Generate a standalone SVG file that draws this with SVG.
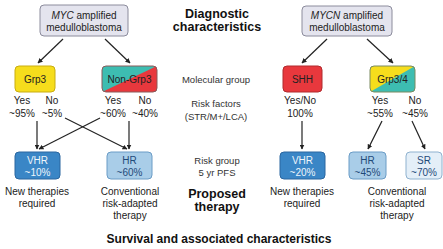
<svg xmlns="http://www.w3.org/2000/svg" width="443" height="249" viewBox="0 0 443 249">
<defs>
<marker id="ah" viewBox="0 0 10 10" refX="9" refY="5" markerWidth="5" markerHeight="5" orient="auto-start-reverse" markerUnits="userSpaceOnUse">
<path d="M0,0 L10,5 L0,10 z" fill="#222"/>
</marker>
<clipPath id="cNG"><rect x="102" y="66" width="55" height="26" rx="4"/></clipPath>
<clipPath id="cG34"><rect x="370" y="66" width="45" height="26" rx="4"/></clipPath>
<style>
text{font-family:"Liberation Sans",Arial,sans-serif;font-size:10px;fill:#222;text-anchor:middle}
.h{font-weight:bold;font-size:12.5px;fill:#111}
.s{font-weight:bold;font-size:12px;fill:#111}
.m{font-size:9.5px;fill:#333}
.top{fill:#e4e4ee;stroke:#8c8c9c;stroke-width:1}
.vhr{fill:#3a86c6;stroke:#2a66a0;stroke-width:1}
.hr{fill:#a9cde8;stroke:#6a9cc6;stroke-width:1}
.sr{fill:#e4eff8;stroke:#8fb2cf;stroke-width:1}
.wt{fill:#eef5fb}
.bt{fill:#1f4a78}
.c line{stroke:#222;stroke-width:1.2;marker-end:url(#ah)}
</style>
</defs>

<g id="myc">
<rect class="top" x="40" y="5" width="88" height="31" rx="4"/>
<text x="84" y="19"><tspan font-style="italic">MYC</tspan> amplified</text>
<text x="84" y="31">medulloblastoma</text>
</g>
<g id="mycn">
<rect class="top" x="302" y="6" width="90" height="30" rx="4"/>
<text x="347" y="19"><tspan font-style="italic">MYCN</tspan> amplified</text>
<text x="347" y="31">medulloblastoma</text>
</g>

<g id="grp3">
<rect x="15" y="66" width="40" height="26" rx="4" fill="#f6dd1c" stroke="#c9ad10"/>
<text x="35" y="83">Grp3</text>
</g>
<g id="nongrp3">
<g clip-path="url(#cNG)">
<rect x="102" y="66" width="55" height="26" fill="#3dbdb1"/>
<polygon points="102,92 157,66 157,92" fill="#e8383d"/>
</g>
<rect x="102" y="66" width="55" height="26" rx="4" fill="none" stroke="#8a5a5a"/>
<text x="129.5" y="83">Non-Grp3</text>
</g>
<g id="shh">
<rect x="283" y="66" width="39" height="26" rx="4" fill="#e8383d" stroke="#b02a2e"/>
<text x="302.5" y="83" fill="#3a1010">SHH</text>
</g>
<g id="grp34">
<g clip-path="url(#cG34)">
<rect x="370" y="66" width="45" height="26" fill="#3dbdb1"/>
<polygon points="370,66 415,66 370,92" fill="#f6dd1c"/>
</g>
<rect x="370" y="66" width="45" height="26" rx="4" fill="none" stroke="#7a8a60"/>
<text x="392.5" y="83">Grp3/4</text>
</g>

<g id="risk-labels">
<text x="22" y="104">Yes</text><text x="22" y="117">~95%</text>
<text x="52" y="104">No</text><text x="52" y="117">~5%</text>
<text x="113" y="104">Yes</text><text x="113" y="117">~60%</text>
<text x="145" y="104">No</text><text x="145" y="117">~40%</text>
<text x="300" y="104">Yes/No</text><text x="300" y="117">100%</text>
<text x="380" y="104">Yes</text><text x="380" y="117">~55%</text>
<text x="415" y="104">No</text><text x="415" y="117">~45%</text>
</g>

<g id="vhr1">
<rect class="vhr" x="15" y="152" width="45" height="27" rx="4"/>
<text class="wt" x="37.5" y="164">VHR</text>
<text class="wt" x="37.5" y="176">~10%</text>
</g>
<g id="hr1">
<rect class="hr" x="107" y="152" width="45" height="27" rx="4"/>
<text class="bt" x="129.5" y="164">HR</text>
<text class="bt" x="129.5" y="176">~60%</text>
</g>
<g id="vhr2">
<rect class="vhr" x="280" y="152" width="45" height="27" rx="4"/>
<text class="wt" x="302.5" y="164">VHR</text>
<text class="wt" x="302.5" y="176">~20%</text>
</g>
<g id="hr2">
<rect class="hr" x="349" y="152" width="37" height="27" rx="4"/>
<text class="bt" x="367.5" y="164">HR</text>
<text class="bt" x="367.5" y="176">~45%</text>
</g>
<g id="sr">
<rect class="sr" x="406" y="152" width="36" height="27" rx="4"/>
<text class="bt" x="424" y="164">SR</text>
<text class="bt" x="424" y="176">~70%</text>
</g>

<g id="therapy-labels">
<text x="37" y="195">New therapies</text><text x="37" y="207">required</text>
<text x="130" y="195">Conventional</text><text x="130" y="207">risk-adapted</text><text x="130" y="219">therapy</text>
<text x="302" y="195">New therapies</text><text x="302" y="207">required</text>
<text x="397" y="195">Conventional</text><text x="397" y="207">risk-adapted</text><text x="397" y="219">therapy</text>
</g>

<g id="center-labels">
<text class="h" x="217" y="18">Diagnostic</text>
<text class="h" x="217" y="31">characteristics</text>
<text class="m" x="216" y="83">Molecular group</text>
<text class="m" x="216" y="107">Risk factors</text>
<text class="m" x="216" y="120">(STR/M+/LCA)</text>
<text class="m" x="217" y="164">Risk group</text>
<text class="m" x="217" y="176">5 yr PFS</text>
<text class="h" x="217" y="198">Proposed</text>
<text class="h" x="217" y="211">therapy</text>
<text class="s" x="219" y="243">Survival and associated characteristics</text>
</g>

<g id="connectors" class="c">
<line x1="63" y1="39" x2="38" y2="63"/>
<line x1="105" y1="39" x2="130" y2="63"/>
<line x1="327" y1="39" x2="302" y2="63"/>
<line x1="367" y1="39" x2="393" y2="63"/>
<line x1="37" y1="121" x2="37" y2="149"/>
<line x1="65" y1="118" x2="127" y2="149"/>
<line x1="100" y1="118" x2="39" y2="149"/>
<line x1="129" y1="121" x2="129" y2="149"/>
<line x1="302" y1="121" x2="302" y2="149"/>
<line x1="382" y1="121" x2="368" y2="149"/>
<line x1="412" y1="121" x2="425" y2="149"/>
</g>
</svg>
